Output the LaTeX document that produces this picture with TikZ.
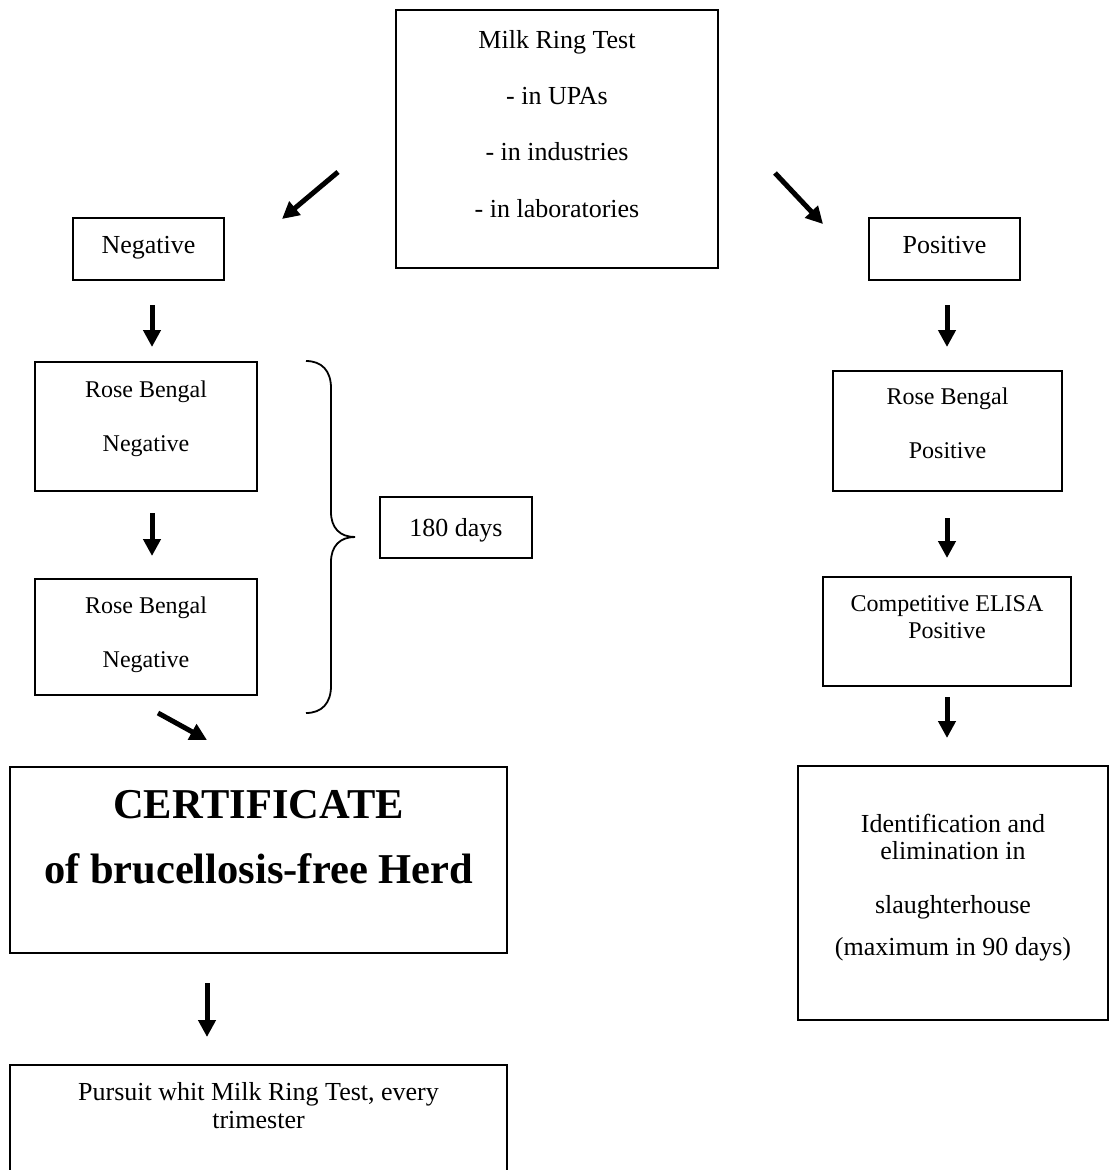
\documentclass[tikz,border=0pt]{standalone}
\usepackage{fontspec}
\setmainfont{Liberation Serif}
\usetikzlibrary{arrows.meta}
\begin{document}
\begin{tikzpicture}[x=1pt,y=-1pt,
  box/.style={draw, line width=1.8pt, inner sep=0pt, outer sep=0pt},
  txt/.style={anchor=base, inner sep=0pt, font=\fontsize{26}{30}\selectfont},
  stxt/.style={anchor=base, inner sep=0pt, font=\fontsize{24}{28}\selectfont},
  btxt/.style={anchor=base, inner sep=0pt, font=\fontsize{42.5}{48}\selectfont\bfseries},
  arr/.style={line width=5pt, -{Triangle[length=17pt,width=17pt]}},
  bracepath/.style={line width=1.8pt}]
\useasboundingbox (0,0) rectangle (1109,1170);
\clip (0,0) rectangle (1109,1170);
% boxes
\node[box, minimum width=322pt, minimum height=258pt] (top) at (557,139) {};
\node[box, minimum width=151pt, minimum height=62pt] (neg) at (148.5,249) {};
\node[box, minimum width=151pt, minimum height=62pt] (pos) at (944.5,249) {};
\node[box, minimum width=222pt, minimum height=129pt] (rbn1) at (146,426.5) {};
\node[box, minimum width=222pt, minimum height=116pt] (rbn2) at (146,637) {};
\node[box, minimum width=152pt, minimum height=61pt] (days) at (456,527.5) {};
\node[box, minimum width=497pt, minimum height=186pt] (cert) at (258.5,860) {};
\node[box, minimum width=497pt, minimum height=135pt] (purs) at (258.5,1132.5) {};
\node[box, minimum width=229pt, minimum height=120pt] (rbp) at (947.5,431) {};
\node[box, minimum width=248pt, minimum height=109pt] (elisa) at (947,631.5) {};
\node[box, minimum width=310pt, minimum height=254pt] (ident) at (953,893) {};
% texts
\node[txt] (t1) at (557,48) {Milk Ring Test};
\node[txt] (t2) at (557,104) {- in UPAs};
\node[txt] (t3) at (557,160) {- in industries};
\node[txt] (t4) at (557,217) {- in laboratories};
\node[txt] (tneg) at (148.5,253) {Negative};
\node[txt] (tpos) at (944.5,253) {Positive};
\node[stxt] (trb1a) at (146,397) {Rose Bengal};
\node[stxt] (trb1b) at (146,451) {Negative};
\node[stxt] (trb2a) at (146,613) {Rose Bengal};
\node[stxt] (trb2b) at (146,667) {Negative};
\node[txt] (tdays) at (456,536) {180 days};
\node[stxt] (trbpa) at (947.5,404) {Rose Bengal};
\node[stxt] (trbpb) at (947.5,458) {Positive};
\node[stxt] (tela) at (947,611) {Competitive ELISA};
\node[stxt] (telb) at (947,638) {Positive};
\node[btxt] (tcerta) at (258.5,818) {CERTIFICATE};
\node[btxt] (tcertb) at (258.5,883) {of brucellosis-free Herd};
\node[txt] (tida) at (953,832) {Identification and};
\node[txt] (tidb) at (953,859) {elimination in};
\node[txt] (tidc) at (953,913) {slaughterhouse};
\node[txt] (tidd) at (953,955) {(maximum in 90 days)};
\node[txt] (tpua) at (258.5,1100) {Pursuit whit Milk Ring Test, every};
\node[txt] (tpub) at (258.5,1128) {trimester};
% arrow end points
\coordinate (a1s) at (338,172); \coordinate (a1e) at (282,219);
\coordinate (a2s) at (775,173); \coordinate (a2e) at (823,224);
\coordinate (a3s) at (152,305); \coordinate (a3e) at (152,347);
\coordinate (a4s) at (152,513); \coordinate (a4e) at (152,556);
\coordinate (a5s) at (158,713); \coordinate (a5e) at (207,740);
\coordinate (a6s) at (207,983); \coordinate (a6e) at (207,1037);
\coordinate (a7s) at (947,305); \coordinate (a7e) at (947,347);
\coordinate (a8s) at (947,518); \coordinate (a8e) at (947,558);
\coordinate (a9s) at (947,697); \coordinate (a9e) at (947,738);
\draw[arr] (a1s) -- (a1e);
\draw[arr] (a2s) -- (a2e);
\draw[arr] (a3s) -- (a3e);
\draw[arr] (a4s) -- (a4e);
\draw[arr] (a5s) -- (a5e);
\draw[arr] (a6s) -- (a6e);
\draw[arr] (a7s) -- (a7e);
\draw[arr] (a8s) -- (a8e);
\draw[arr] (a9s) -- (a9e);
% brace
\coordinate (brtop) at (306,361);
\coordinate (brtip) at (355,537);
\coordinate (brbot) at (306,713);
\draw[bracepath] (brtop) .. controls (322,361) and (331,371) .. (331,388)
  -- (331,512) .. controls (331,528) and (340,537) .. (brtip)
  .. controls (340,537) and (331,546) .. (331,562)
  -- (331,686) .. controls (331,703) and (322,713) .. (brbot);
\end{tikzpicture}
\end{document}
